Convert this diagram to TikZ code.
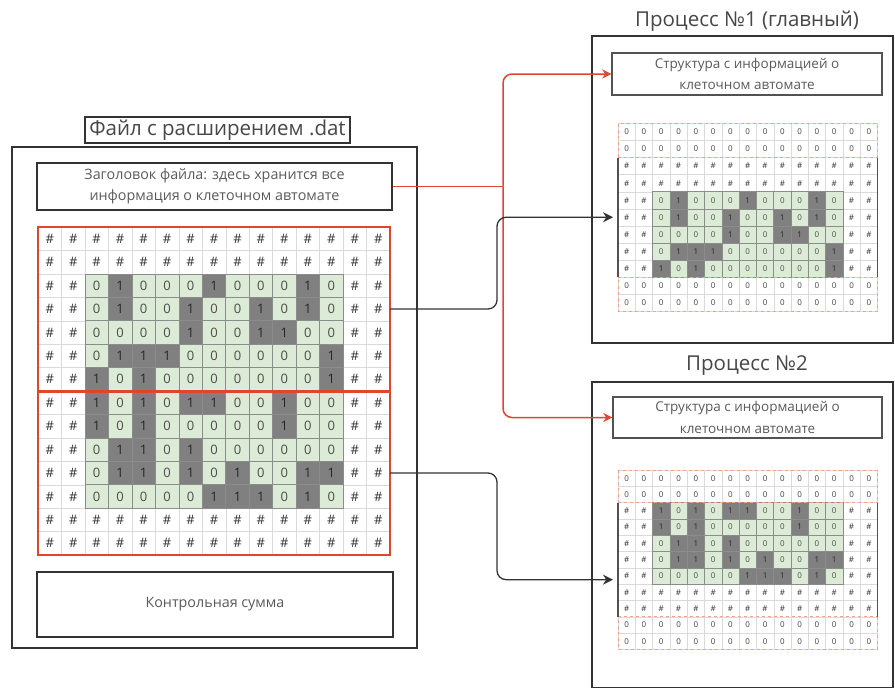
\documentclass[tikz,border=0pt]{standalone}
\usepackage{fontspec}
\setmainfont{Open Sans}
\usetikzlibrary{arrows.meta}
\definecolor{ink}{HTML}{333333}
\definecolor{txt}{HTML}{5A5A5A}
\definecolor{redl}{HTML}{DE4630}
\definecolor{zc}{HTML}{DCEBD5}
\definecolor{oc}{HTML}{808080}
\definecolor{gl}{HTML}{DADADA}
\definecolor{dsh}{HTML}{F0A585}
\expandafter\def\csname txth\endcsname{\#}
\expandafter\def\csname txtg\endcsname{0}
\expandafter\def\csname txt0\endcsname{0}
\expandafter\def\csname txt1\endcsname{1}
\tikzset{
  cellbase/.style={inner sep=0pt, outer sep=0pt},
  cellh/.style={text=black!80},
  cellg/.style={text=black!75},
  cell0/.style={fill=zc, draw=black!45, line width=0.5pt, text=black!70},
  cell1/.style={fill=oc, draw=black!45, line width=0.5pt, text=black!85},
  gridline/.style={draw=gl, line width=0.4pt},
  bigbox/.style={draw=ink, line width=2.4pt, inner sep=0pt},
  midbox/.style={draw=ink, line width=2.8pt, inner sep=0pt, text=txt, align=center, font=\fontsize{14.3}{21.5}\selectfont},
  smallbox/.style={draw=ink!85, line width=1.4pt, inner sep=0pt, text=txt, align=center, font=\fontsize{13.5}{21.5}\selectfont},
  ttl/.style={text=ink!90, font=\fontsize{20.5}{22}\selectfont},
  redarrow/.style={draw=redl, line width=1.5pt, rounded corners=9pt, -{Stealth[length=9pt,width=9pt]}},
  darkarrow/.style={draw=ink, line width=1.3pt, rounded corners=9pt, -{Stealth[length=10pt,width=10pt]}, shorten >=5pt},
  halfbox/.style={inner sep=0pt, outer sep=0pt, minimum width=352pt, minimum height=164pt}
}
\newcommand\drawcells[7]{%
  \foreach \rw [count=\r from 0] in {#7} {
    \foreach \t [count=\c from 0] in \rw {
      \node[cellbase, cell\t, minimum width=#4pt, minimum height=#5pt, font=#6] (#1-\r-\c) at ({#2+(\c+0.5)*#4},{#3+(\r+0.5)*#5}) {\csname txt\t\endcsname};
    }
  }
}
\begin{document}
\begin{tikzpicture}[x=1pt,y=-1pt]
\useasboundingbox (0,0) rectangle (895,688);
\fill[white] (0,0) rectangle (895,688);

% ---------- left: file ----------
\node[bigbox, minimum width=405pt, minimum height=501pt] (file) at (214.5,397.5) {};
\node[draw=ink, line width=1.2pt, inner sep=0pt, minimum width=265pt, minimum height=26pt, text=ink!90, font=\fontsize{20.5}{21}\selectfont] (filettl) at (217.5,130) {Файл с расширением .dat};
\node[midbox, minimum width=355pt, minimum height=47pt] (hdr) at (214.5,186.5) {Заголовок файла: здесь хранится все\\информация о клеточном автомате};
\node[midbox, minimum width=356pt, minimum height=65pt] (sum) at (215,604.5) {Контрольная сумма};

% grid lines
\foreach \i in {0,...,15} \draw[gridline] ({38+\i*23.467},227) -- ++(0,328);
\foreach \j in {0,...,14} \draw[gridline] (38,{227+\j*23.43}) -- ++(352,0);
\drawcells{L}{38}{227}{23.467}{23.43}{\fontsize{13}{13}\selectfont}{
{h,h,h,h,h,h,h,h,h,h,h,h,h,h,h},
{h,h,h,h,h,h,h,h,h,h,h,h,h,h,h},
{h,h,0,1,0,0,0,1,0,0,0,1,0,h,h},
{h,h,0,1,0,0,1,0,0,1,0,1,0,h,h},
{h,h,0,0,0,0,1,0,0,1,1,0,0,h,h},
{h,h,0,1,1,1,0,0,0,0,0,0,1,h,h},
{h,h,1,0,1,0,0,0,0,0,0,0,1,h,h},
{h,h,1,0,1,0,1,1,0,0,1,0,0,h,h},
{h,h,1,0,1,0,0,0,0,0,1,0,0,h,h},
{h,h,0,1,1,0,1,0,0,0,0,0,0,h,h},
{h,h,0,1,1,0,1,0,1,0,0,1,1,h,h},
{h,h,0,0,0,0,0,1,1,1,0,1,0,h,h},
{h,h,h,h,h,h,h,h,h,h,h,h,h,h,h},
{h,h,h,h,h,h,h,h,h,h,h,h,h,h,h}}
\draw[redl, line width=2.6pt] (38,227) rectangle (390,555);
\draw[redl, line width=3pt] (38,391) -- (390,391);
\node[halfbox] (uhalf) at (214,309) {};
\node[halfbox] (lhalf) at (214,473) {};

% ---------- process 1 ----------
\node[ttl] (p1ttl) at (747,21) {Процесс №1 (главный)};
\node[bigbox, minimum width=301pt, minimum height=307pt] (p1) at (742.5,189.5) {};
\node[smallbox, minimum width=270pt, minimum height=42pt] (s1) at (747,74) {Структура с информацией о\\клеточном автомате};
\foreach \i in {0,...,15} \draw[gridline] ({618+\i*17.3},123.5) -- ++(0,187.5);
\foreach \j in {0,...,11} \draw[gridline] (618,{123.5+\j*17.05}) -- ++(259.5,0);
\drawcells{P}{618}{123.5}{17.3}{17.05}{\fontsize{8}{8}\selectfont}{
{g,g,g,g,g,g,g,g,g,g,g,g,g,g,g},
{g,g,g,g,g,g,g,g,g,g,g,g,g,g,g},
{h,h,h,h,h,h,h,h,h,h,h,h,h,h,h},
{h,h,h,h,h,h,h,h,h,h,h,h,h,h,h},
{h,h,0,1,0,0,0,1,0,0,0,1,0,h,h},
{h,h,0,1,0,0,1,0,0,1,0,1,0,h,h},
{h,h,0,0,0,0,1,0,0,1,1,0,0,h,h},
{h,h,0,1,1,1,0,0,0,0,0,0,1,h,h},
{h,h,1,0,1,0,0,0,0,0,0,0,1,h,h},
{g,g,g,g,g,g,g,g,g,g,g,g,g,g,g},
{g,g,g,g,g,g,g,g,g,g,g,g,g,g,g}}
\draw[dsh, dashed, line width=0.6pt] (618,123.5) rectangle (877.5,311);
\draw[dsh, dashed, line width=0.6pt] (618,157.6) -- (877.5,157.6);
\draw[dsh, dashed, line width=0.6pt] (618,277) -- (877.5,277);
\draw[ink!85, line width=1.3pt] (618,157.6) -- (618,277);
\draw[ink!85, line width=1.3pt] (877.5,157.6) -- (877.5,277);
\node[inner sep=0pt, outer sep=0pt, minimum width=259.5pt, minimum height=187.5pt] (g1) at (747.75,217.25) {};

% ---------- process 2 ----------
\node[ttl] (p2ttl) at (747,366) {Процесс №2};
\node[bigbox, minimum width=301pt, minimum height=306pt] (p2) at (742.5,535) {};
\node[smallbox, minimum width=269pt, minimum height=41pt] (s2) at (747.5,417.5) {Структура с информацией о\\клеточном автомате};
\foreach \i in {0,...,15} \draw[gridline] ({618+\i*17.3},470) -- ++(0,179.3);
\foreach \j in {0,...,11} \draw[gridline] (618,{470+\j*16.3}) -- ++(259.5,0);
\drawcells{Q}{618}{470}{17.3}{16.3}{\fontsize{8}{8}\selectfont}{
{g,g,g,g,g,g,g,g,g,g,g,g,g,g,g},
{g,g,g,g,g,g,g,g,g,g,g,g,g,g,g},
{h,h,1,0,1,0,1,1,0,0,1,0,0,h,h},
{h,h,1,0,1,0,0,0,0,0,1,0,0,h,h},
{h,h,0,1,1,0,1,0,0,0,0,0,0,h,h},
{h,h,0,1,1,0,1,0,1,0,0,1,1,h,h},
{h,h,0,0,0,0,0,1,1,1,0,1,0,h,h},
{h,h,h,h,h,h,h,h,h,h,h,h,h,h,h},
{h,h,h,h,h,h,h,h,h,h,h,h,h,h,h},
{g,g,g,g,g,g,g,g,g,g,g,g,g,g,g},
{g,g,g,g,g,g,g,g,g,g,g,g,g,g,g}}
\draw[dsh, dashed, line width=0.6pt] (618,470) rectangle (877.5,649.3);
\draw[dsh, dashed, line width=0.6pt] (618,502.6) -- (877.5,502.6);
\draw[dsh, dashed, line width=0.6pt] (618,616.7) -- (877.5,616.7);
\draw[ink!85, line width=1.3pt] (618,502.6) -- (618,616.7);
\draw[ink!85, line width=1.3pt] (877.5,502.6) -- (877.5,616.7);
\node[inner sep=0pt, outer sep=0pt, minimum width=259.5pt, minimum height=179.3pt] (g2) at (747.75,559.65) {};

% ---------- connectors ----------
\coordinate (split) at (503,186.5);
\draw[redl, line width=1.5pt] (hdr.east) -- (split);
\draw[redarrow] (split) |- (s1.west);
\draw[redarrow] (split) |- (s2.west);
\draw[darkarrow] (uhalf.east) -- ++(107,0) |- (g1.west);
\draw[darkarrow] (lhalf.east) -- ++(107,0) |- ([yshift=-20pt]g2.west);
\end{tikzpicture}
\end{document}
